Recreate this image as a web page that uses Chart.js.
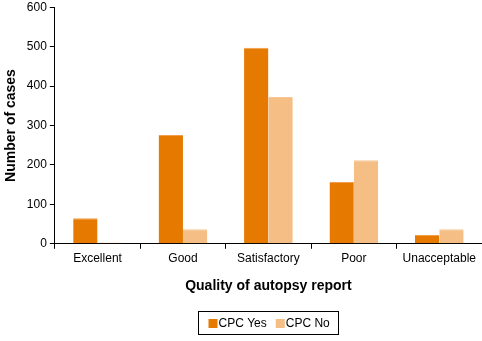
<!DOCTYPE html>
<html>
<head>
<meta charset="utf-8">
<script src="https://cdn.jsdelivr.net/npm/chart.js@4"></script>
<style>
html,body{margin:0;padding:0;background:#fff;}
#wrap{width:482px;height:341px;position:relative;}
</style>
</head>
<body>
<div id="wrap"><canvas id="c" width="482" height="341"></canvas></div>
<script>
const categories = ["Excellent", "Good", "Satisfactory", "Poor", "Unacceptable"];
const cpcYes = [65, 276, 497, 157, 22];
const cpcNo = [3, 37, 372, 212, 37];
const yTicks = [0, 100, 200, 300, 400, 500, 600];

const legendPlugin = {
  id: 'boxLegend',
  afterDraw(chart) {
    const ctx = chart.ctx;
    const ca = chart.chartArea;
    const cx = (ca.left + ca.right) / 2;
    const w = 140, h = 23;
    const x0 = Math.round(cx - w / 2) + 0.5, y0 = 311.5;
    ctx.save();
    ctx.strokeStyle = '#000';
    ctx.lineWidth = 1;
    ctx.strokeRect(x0, y0, w, h);
    ctx.font = '12px "Liberation Sans", Arial, sans-serif';
    ctx.textBaseline = 'middle';
    ctx.fillStyle = '#000';
    const items = chart.data.datasets;
    let x = x0 + 10;
    const ym = y0 + h / 2 + 0.5;
    items.forEach((ds, i) => {
      ctx.fillStyle = ds.backgroundColor;
      ctx.fillRect(x, ym - 4.5, 9, 9);
      ctx.fillStyle = '#000';
      ctx.fillText(ds.label, x + 10, ym);
      x += 10 + ctx.measureText(ds.label).width + 9;
    });
    ctx.restore();
  }
};

new Chart(document.getElementById('c'), {
  type: 'bar',
  data: {
    labels: categories,
    datasets: [
      { label: 'CPC Yes', data: cpcYes, backgroundColor: '#E67A00', borderColor: '#EE9E4C', borderWidth: {top:1, left:0, right:0, bottom:0}, borderSkipped: false },
      { label: 'CPC No', data: cpcNo, backgroundColor: '#F4BE84', borderColor: '#F6C896', borderWidth: {top:1, left:0, right:0, bottom:0}, borderSkipped: false }
    ]
  },
  options: {
    responsive: false,
    animation: false,
    devicePixelRatio: 1,
    layout: { padding: { left: 3, right: 0, top: 0, bottom: 46 } },
    datasets: { bar: { categoryPercentage: 0.57, barPercentage: 1.0 } },
    plugins: {
      legend: { display: false },
      tooltip: { enabled: false }
    },
    scales: {
      x: {
        offset: true,
        grid: { offset: true, drawOnChartArea: false, drawTicks: true, tickLength: 5, color: '#000' },
        border: { color: '#000', width: 1 },
        ticks: { color: '#000', font: { family: '"Liberation Sans", Arial, sans-serif', size: 12 }, padding: 3 },
        title: { display: true, text: 'Quality of autopsy report', color: '#000', font: { family: '"Liberation Sans", Arial, sans-serif', size: 14, weight: 'bold' }, padding: { top: 9, bottom: 0 } }
      },
      y: {
        min: 0, max: 600,
        afterBuildTicks(scale) { scale.ticks = yTicks.map(v => ({ value: v })); },
        grid: { drawOnChartArea: false, drawTicks: true, tickLength: 5, color: '#000' },
        border: { color: '#000', width: 1 },
        ticks: { color: '#000', font: { family: '"Liberation Sans", Arial, sans-serif', size: 12, lineHeight: 0.7 }, padding: 3 },
        title: { display: true, text: 'Number of cases', color: '#000', font: { family: '"Liberation Sans", Arial, sans-serif', size: 14, weight: 'bold' }, padding: { top: 0, bottom: 4 } }
      }
    }
  },
  plugins: [legendPlugin]
});
</script>
</body>
</html>
